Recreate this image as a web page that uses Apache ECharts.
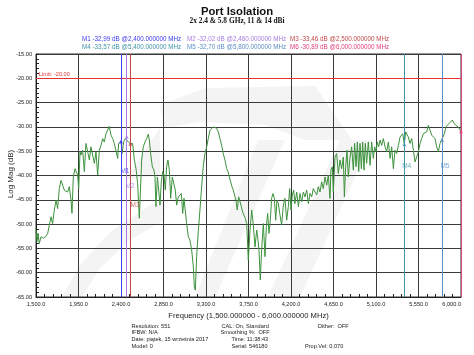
<!DOCTYPE html>
<html><head><meta charset="utf-8">
<script src="https://cdn.jsdelivr.net/npm/echarts@6/dist/echarts.min.js"></script>
<style>html,body{margin:0;padding:0;background:#fff}#c{width:474px;height:355px}</style>
</head><body><div id="c"></div>
<script>
// ---- data ----
const freqMHz = [1500,1511,1521,1535,1553,1578,1606,1624,1641,1659,1676,1694,1712,1729,1747,1765,1782,1800,1818,1835,1853,1871,1881,1895,1913,1924,1941,1952,1966,1976,1994,2012,2029,2047,2065,2082,2100,2118,2135,2153,2171,2188,2206,2223,2241,2259,2276,2294,2312,2329,2347,2365,2375,2389,2400,2411,2428,2446,2460,2478,2500,2523,2541,2559,2576,2594,2619,2636,2654,2672,2689,2700,2714,2732,2749,2760,2770,2785,2799,2813,2827,2841,2855,2869,2883,2897,2912,2926,2943,2961,2975,2989,3007,3024,3039,3053,3067,3084,3095,3113,3130,3148,3166,3176,3187,3201,3219,3236,3254,3272,3289,3307,3324,3342,3360,3377,3395,3413,3430,3448,3466,3483,3501,3519,3533,3547,3561,3575,3589,3603,3617,3631,3646,3660,3674,3688,3702,3716,3731,3748,3766,3784,3801,3819,3837,3847,3861,3875,3889,3907,3925,3939,3953,3967,3981,3995,4009,4024,4038,4052,4066,4084,4101,4119,4136,4154,4172,4186,4200,4214,4228,4242,4260,4278,4295,4313,4331,4348,4366,4384,4401,4419,4436,4454,4472,4489,4507,4525,4542,4560,4578,4595,4613,4623,4638,4648,4666,4683,4701,4719,4736,4754,4765,4779,4793,4807,4825,4842,4860,4874,4889,4903,4917,4931,4945,4959,4973,4987,5001,5019,5037,5054,5072,5086,5100,5114,5128,5143,5160,5178,5196,5213,5231,5249,5266,5284,5301,5319,5337,5354,5372,5383,5400,5414,5425,5443,5460,5478,5496,5513,5531,5549,5566,5584,5601,5619,5637,5654,5672,5690,5707,5725,5743,5760,5778,5795,5800,5824,5841,5855,5873,5891,5908,5926,5947,5968,6000];
const logMagDB = [-51.2,-53.6,-51.9,-54.0,-52.6,-52.9,-52.5,-51.9,-50.2,-48.5,-49.9,-47.1,-45.1,-46.8,-42.7,-41.0,-42.0,-43.0,-42.7,-43.4,-42.3,-45.1,-47.8,-40.3,-38.6,-38.2,-39.9,-42.7,-35.1,-35.8,-34.8,-39.2,-33.4,-33.1,-36.8,-34.1,-35.8,-37.5,-35.1,-39.9,-34.8,-33.8,-32.4,-33.1,-31.4,-31.0,-29.9,-31.7,-32.4,-33.4,-33.1,-36.5,-33.4,-33.1,-32.99,-35.5,-33.1,-32.4,-32.02,-33.1,-33.46,-33.4,-36.8,-38.6,-41.6,-48.8,-36.8,-34.1,-33.1,-32.4,-31.5,-32.7,-35.5,-38.2,-38.9,-40.3,-46.4,-40.3,-43.0,-46.1,-41.3,-39.2,-39.9,-43.0,-38.2,-36.8,-38.9,-44.7,-40.3,-40.6,-43.0,-46.1,-44.4,-44.0,-43.7,-47.8,-44.7,-45.1,-49.9,-52.6,-53.3,-55.3,-58.8,-62.9,-63.6,-56.7,-51.2,-47.1,-42.3,-37.9,-35.5,-34.1,-32.4,-30.7,-30.3,-30.0,-29.9,-30.3,-31.0,-32.4,-33.8,-35.5,-36.8,-38.6,-39.2,-40.3,-41.3,-42.3,-43.0,-42.7,-45.1,-47.1,-44.4,-45.4,-46.4,-47.5,-47.1,-48.8,-49.9,-57.4,-51.2,-47.1,-50.2,-54.7,-51.2,-52.6,-55.3,-61.5,-55.3,-49.9,-56.7,-50.5,-47.8,-51.9,-49.2,-44.7,-43.7,-44.7,-49.2,-45.1,-45.8,-48.2,-50.2,-46.1,-44.7,-49.2,-46.4,-42.7,-47.1,-44.0,-43.0,-45.8,-43.4,-46.4,-43.7,-45.4,-43.4,-44.4,-43.0,-45.8,-43.7,-44.4,-42.7,-43.4,-44.0,-42.3,-43.4,-41.3,-42.7,-40.3,-42.0,-39.9,-44.7,-38.9,-38.2,-43.4,-36.2,-35.5,-39.6,-36.8,-38.6,-36.2,-44.4,-38.2,-34.8,-40.3,-36.2,-34.1,-38.9,-33.4,-38.2,-33.1,-39.2,-33.4,-38.6,-33.1,-38.9,-33.4,-37.5,-33.1,-37.9,-33.1,-36.5,-34.1,-35.1,-33.1,-34.1,-32.7,-33.8,-32.4,-34.1,-35.1,-33.1,-36.5,-34.1,-38.6,-34.8,-35.5,-33.8,-32.1,-31.7,-31.4,-33.57,-31.0,-30.7,-32.1,-33.4,-32.4,-34.8,-37.2,-36.2,-35.1,-33.4,-32.4,-31.4,-31.7,-31.0,-29.7,-30.0,-31.7,-31.4,-32.4,-34.1,-35.1,-33.4,-32.7,-32.70,-31.4,-30.0,-29.7,-29.3,-29.0,-28.6,-29.3,-29.7,-30.0,-30.89];
const markerNames = ['M1','M2','M3','M4','M5','M6'];
const markerFreq = [2400,2460,2500,5400,5800,6000];
const markerDB = [-32.99,-32.02,-33.46,-33.57,-32.70,-30.89];
const limitDB = -20;
const xTicks = {min:1500, max:6000, step:450};
const yTicks = {min:-65, max:-15, step:5};

// ---- styles ----
const mColors = ['#3b3bf2','#a77ce0','#c24848','#3f93a6','#5b8fc4','#e2407f'];
const mLabelPos = [[2442,-39.1],[2495,-42.2],[2548,-46.1],[5425,-38.1],[5830,-38.1]];
const FONT = 'Liberation Sans';

const fmtF = v => v.toLocaleString('en-US',{minimumFractionDigits:6,maximumFractionDigits:6});
const fmtDB = v => v.toFixed(2).replace('.',',');
const headerTexts = markerNames.map((n,i)=>({
  type:'text', left: [82,187,290][i%3], top: i<3 ? 36 : 44,
  style:{text:`${n} ${fmtDB(markerDB[i])} dB @${fmtF(markerFreq[i])} MHz`, fill:mColors[i], font:`6.3px "${FONT}"`}
}));

const footer = [
  ['Resolution: 551',131.5,323],['IFBW: N/A',131.5,329.8],['Date: piątek, 15 września 2017',131.5,336.6],['Model: 0',131.5,343.4],
  ['CAL: On, Standard',221.5,323],['Smoothing %:  OFF',220.5,329.8],['Time: 11:38:43',231.5,336.6],['Serial: 546180',231.5,343.4],
  ['Dither:  OFF',318,323],['Prop.Vel: 0,070',305,343.4]
].map(([t,x,y])=>({type:'text',left:x,top:y,style:{text:t,fill:'#222',font:`5.6px "${FONT}"`}}));

const wm = '#f4f4f4';
const chart = echarts.init(document.getElementById('c'));
chart.setOption({
  animation:false,
  backgroundColor:'#fff',
  title:[
    {text:'Port Isolation', left:'center', top:1, textStyle:{fontFamily:FONT,fontWeight:'bold',fontSize:11.3,color:'#111'}},
    {text:'2x 2.4 & 5.8 GHz, 11 & 14 dBi', left:'center', top:13, textStyle:{fontFamily:'Liberation Serif',fontWeight:'bold',fontSize:7.4,color:'#111'}}
  ],
  graphic:[
    // faint background watermark
    {type:'polygon', z:-10, shape:{points:[[160,105],[205,88],[315,86],[352,140],[305,140],[265,125],[200,122],[165,128]]}, style:{fill:wm}},
    {type:'polygon', z:-10, shape:{points:[[258,140],[285,140],[215,297],[195,297]]}, style:{fill:wm}},
    {type:'polygon', z:-10, shape:{points:[[340,140],[372,140],[300,297],[268,297]]}, style:{fill:wm}},
    {type:'polygon', z:-10, shape:{points:[[62,297],[80,265],[110,232],[150,205],[165,200],[165,220],[130,240],[100,268],[82,297]]}, style:{fill:wm}},
    {type:'polygon', z:-10, shape:{points:[[125,180],[160,128],[160,175]]}, style:{fill:wm}},
    {type:'text', x:10.5, y:174, rotation:Math.PI/2, style:{text:'Log Mag (dB)', fill:'#222', font:`8px "${FONT}"`, align:'center', verticalAlign:'middle'}},
    ...headerTexts,
    ...footer
  ],
  grid:{left:36, right:13, top:54, bottom:58, show:true, borderColor:'#333', borderWidth:1},
  xAxis:{
    type:'value', min:xTicks.min, max:xTicks.max, interval:xTicks.step,
    name:'Frequency (1,500.000000 - 6,000.000000 MHz)', nameLocation:'middle', nameGap:14,
    nameTextStyle:{fontFamily:FONT, fontSize:7.6, color:'#222'},
    axisLine:{lineStyle:{color:'#222'}},
    axisTick:{show:false, inside:true},
    minorTick:{show:true, splitNumber:5, length:3, lineStyle:{color:'#222'}},
    axisLabel:{fontFamily:FONT, fontSize:5.6, color:'#222', margin:4, alignMaxLabel:'right',
      formatter:v=>v.toLocaleString('en-US',{minimumFractionDigits:1,maximumFractionDigits:1})},
    splitLine:{show:true, lineStyle:{color:'#3a3a3a', width:1}}
  },
  yAxis:{
    type:'value', min:yTicks.min, max:yTicks.max, interval:yTicks.step,
    axisLine:{show:true, lineStyle:{color:'#222'}},
    axisTick:{show:true, inside:true, length:3, lineStyle:{color:'#222'}},
    minorTick:{show:true, splitNumber:5, length:3, lineStyle:{color:'#222'}},
    axisLabel:{fontFamily:FONT, fontSize:5.6, color:'#222', margin:4, formatter:v=>v.toFixed(2)},
    splitLine:{show:true, lineStyle:{color:'#3a3a3a', width:1}}
  },
  series:[
    {
      type:'line', data:freqMHz.map((f,i)=>[f,logMagDB[i]]), symbol:'none',
      lineStyle:{color:'#3c923c', width:1}, z:3,
      markLine:{
        silent:true, symbol:'none', animation:false,
        data:[
          {yAxis:limitDB, lineStyle:{color:'#e53030',type:'solid',width:1},
           label:{show:true, position:'insideStartTop', formatter:'Limit: -20,00', color:'#e53030', fontFamily:FONT, fontSize:5.6, distance:[3,1]}},
          ...markerFreq.map((f,i)=>({xAxis:f, lineStyle:{color:mColors[i],type:'solid',width:1}, label:{show:false}}))
        ]
      }
    },
    {
      type:'scatter', symbol:'triangle', symbolSize:4, z:5,
      data:markerFreq.map((f,i)=>({value:[f,markerDB[i]], itemStyle:{color:mColors[i]}}))
    },
    {
      type:'scatter', symbolSize:0, z:5, silent:true,
      data:mLabelPos.map((p,i)=>({value:p, label:{show:true, position:'inside', formatter:markerNames[i], color:mColors[i], fontFamily:FONT, fontSize:6.5}}))
    }
  ]
});
</script></body></html>
